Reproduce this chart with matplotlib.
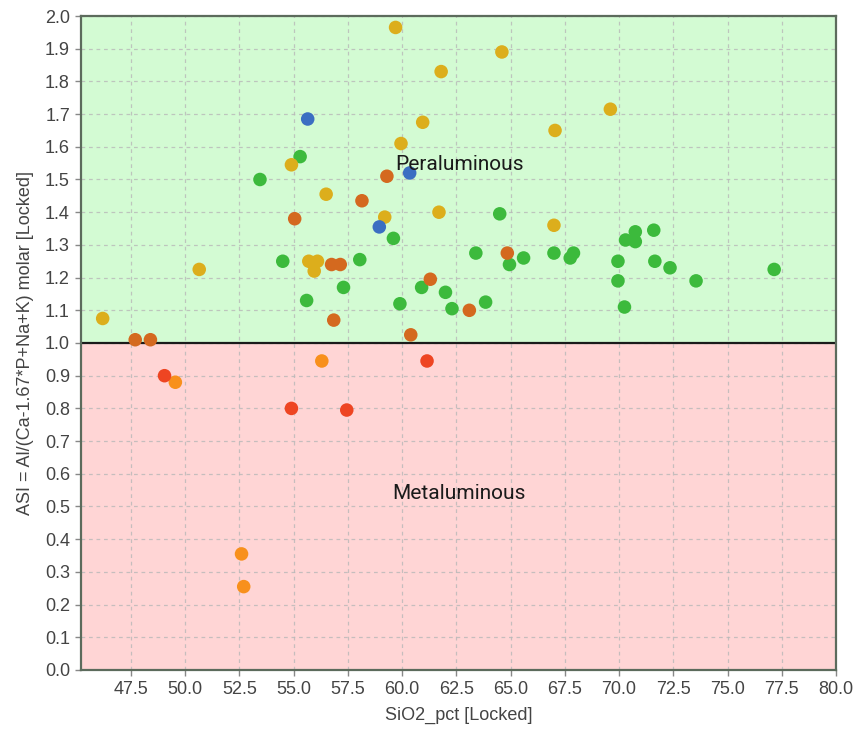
import matplotlib
matplotlib.use("Agg")
import matplotlib.pyplot as plt

# SiO2 (wt%) and ASI values, grouped by marker colour
green_sio2 = [53.45, 54.5, 55.3, 55.6, 57.3, 58.05, 59.6, 59.9, 60.9, 62.0, 62.3,
              63.4, 63.85, 64.5, 64.95, 65.6, 67.0, 67.75, 67.9, 69.95, 69.95,
              70.25, 70.3, 70.75, 70.75, 71.6, 71.65, 72.35, 73.55, 77.15]
green_asi = [1.50, 1.25, 1.57, 1.13, 1.17, 1.255, 1.32, 1.12, 1.17, 1.155, 1.105,
             1.275, 1.125, 1.395, 1.24, 1.26, 1.275, 1.26, 1.275, 1.25, 1.19,
             1.11, 1.315, 1.34, 1.31, 1.345, 1.25, 1.23, 1.19, 1.225]

gold_sio2 = [46.2, 50.65, 54.9, 55.7, 55.95, 56.1, 56.5, 59.2, 59.7, 59.95,
             60.95, 61.7, 61.8, 64.6, 67.0, 67.05, 69.6]
gold_asi = [1.075, 1.225, 1.545, 1.25, 1.22, 1.25, 1.455, 1.385, 1.965, 1.61,
            1.675, 1.40, 1.83, 1.89, 1.36, 1.65, 1.715]

brown_sio2 = [47.7, 48.4, 55.05, 56.75, 57.15, 56.85, 58.15, 59.3, 60.4, 61.3,
              63.1, 64.85]
brown_asi = [1.01, 1.01, 1.38, 1.24, 1.24, 1.07, 1.435, 1.51, 1.025, 1.195,
             1.10, 1.275]

orange_sio2 = [49.55, 52.6, 52.7, 56.3]
orange_asi = [0.88, 0.355, 0.255, 0.945]

red_sio2 = [49.05, 54.9, 57.45, 61.15]
red_asi = [0.90, 0.80, 0.795, 0.945]

blue_sio2 = [55.65, 58.95, 60.35]
blue_asi = [1.685, 1.355, 1.52]

x_ticks = [47.5, 50.0, 52.5, 55.0, 57.5, 60.0, 62.5, 65.0, 67.5, 70.0, 72.5, 75.0, 77.5, 80.0]
y_ticks = [round(0.1 * i, 1) for i in range(21)]

x_min, x_max = 45.2, 80.0
y_min, y_max = 0.0, 2.0
threshold = 1.0

fig = plt.figure(figsize=(8.57, 7.34), dpi=100)
ax = fig.add_axes([0.0945, 0.0872, 0.881, 0.891])

# classification fields
ax.axhspan(threshold, y_max, color="#d3fbd3", zorder=0, lw=0)
ax.axhspan(y_min, threshold, color="#ffd5d5", zorder=0, lw=0)

ax.set_xlim(x_min, x_max)
ax.set_ylim(y_min, y_max)
ax.set_xticks(x_ticks)
ax.set_xticklabels([f"{v:.1f}" for v in x_ticks])
ax.set_yticks(y_ticks)
ax.set_yticklabels([f"{v:.1f}" for v in y_ticks])

ax.grid(True, color="#b8b8b8", linestyle=(0, (3, 3)), linewidth=0.9, alpha=0.8, zorder=1)
ax.set_axisbelow(True)

ax.axhline(threshold, color="#1a1a1a", linewidth=1.6, zorder=2)

groups = [
    (green_sio2, green_asi, "#3cba3c"),
    (gold_sio2, gold_asi, "#dcae1c"),
    (brown_sio2, brown_asi, "#d4691f"),
    (orange_sio2, orange_asi, "#f8901c"),
    (red_sio2, red_asi, "#ee4522"),
    (blue_sio2, blue_asi, "#3b6ec2"),
]
for xs, ys, col in groups:
    ax.scatter(xs, ys, s=95, color=col, edgecolors="none", zorder=3)

ax.text(62.65, 1.545, "Peraluminous", ha="center", va="center",
        fontsize=15, family="Roboto", color="#1a1a1a", zorder=4)
ax.text(62.6, 0.54, "Metaluminous", ha="center", va="center",
        fontsize=15, family="Roboto", color="#1a1a1a", zorder=4)

tick_font = "Liberation Sans"
for lab in ax.get_xticklabels() + ax.get_yticklabels():
    lab.set_family(tick_font)
    lab.set_fontsize(13)
    lab.set_color("#444444")
ax.tick_params(axis="both", direction="out", length=4, width=1, color="#888888", pad=4)

ax.set_xlabel("SiO2_pct [Locked]", fontsize=13, family=tick_font, color="#444444", labelpad=6)
ax.set_ylabel("ASI = Al/(Ca-1.67*P+Na+K) molar [Locked]", fontsize=13,
              family=tick_font, color="#444444", labelpad=8)

for side in ["left", "right", "top", "bottom"]:
    ax.spines[side].set_color("#5c6b5c")
    ax.spines[side].set_linewidth(1.6)

fig.savefig("out.png", dpi=100)
